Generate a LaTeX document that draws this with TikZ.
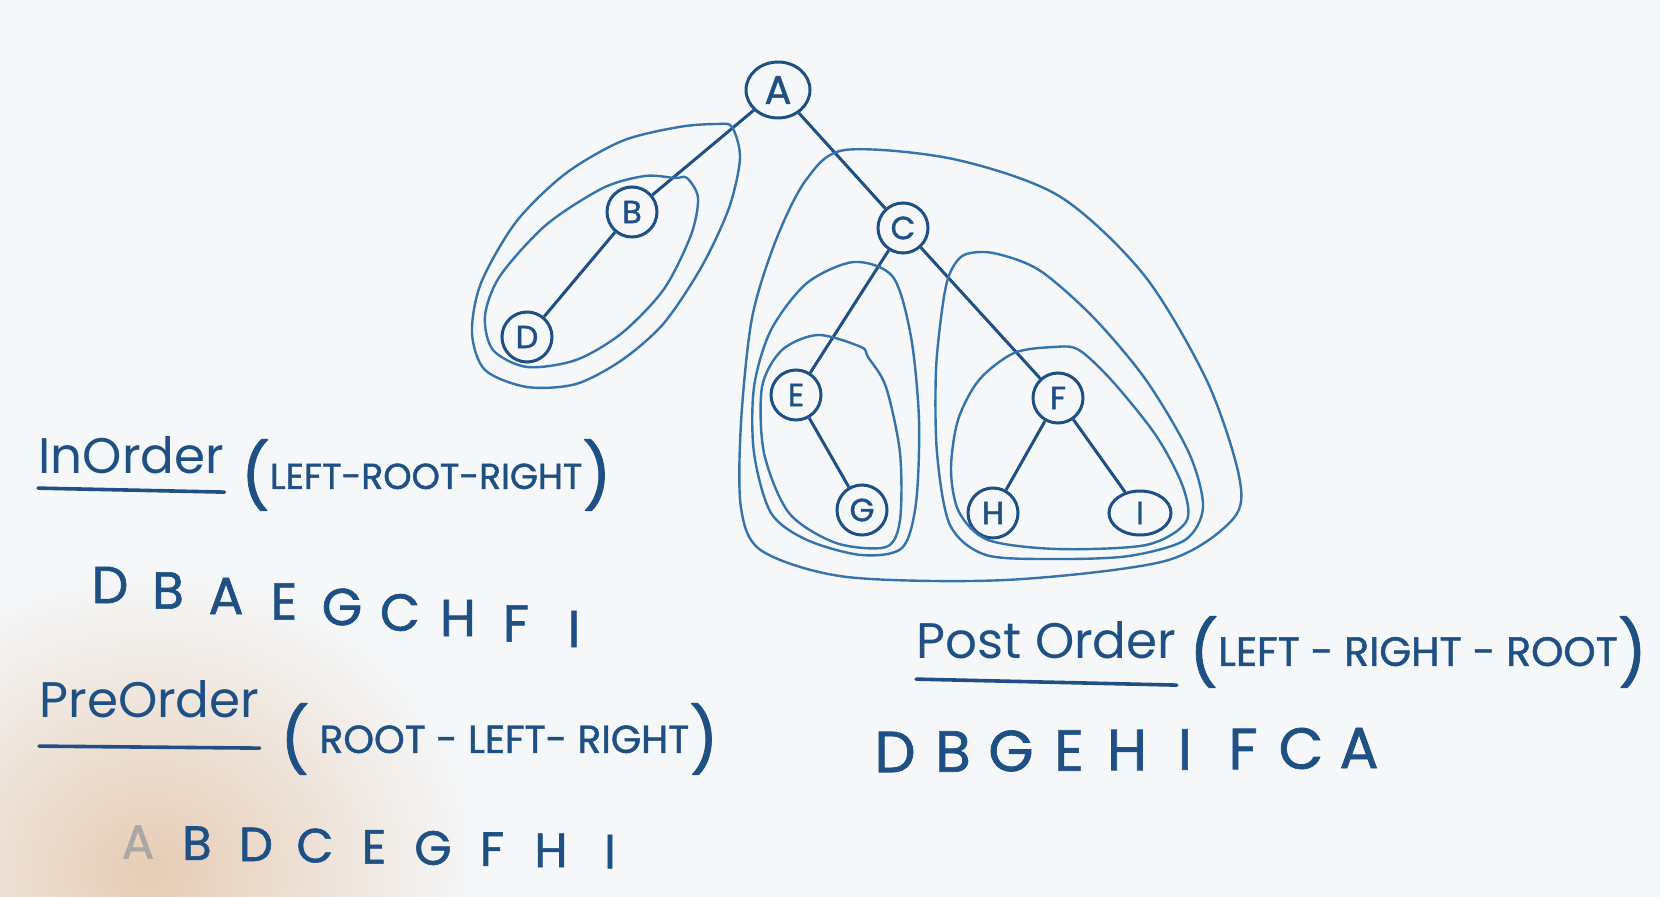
\documentclass[tikz,border=0pt]{standalone}
\usepackage{fontspec}
\setmainfont{Poppins}
\newfontfamily\markerfont{Poppins}[FakeBold=1.2]
\usetikzlibrary{positioning,shapes.geometric}

\definecolor{ink}{RGB}{30,80,132}
\definecolor{inklight}{RGB}{52,116,170}
\definecolor{board}{RGB}{245,247,249}
\definecolor{skin}{RGB}{230,204,180}
\newcommand{\handparen}[1]{\raisebox{-5pt}{\fontsize{32}{32}\selectfont #1}}

\begin{document}
\begin{tikzpicture}[
    x=0.5pt, y=-0.5pt,
    vertex/.style={draw=ink, circle, line width=1.5pt, minimum size=25pt, inner sep=0pt,
                   text=ink, font=\markerfont\fontsize{16}{16}\selectfont},
    branch/.style={draw=ink, line width=1.5pt},
    sweep/.style={draw=inklight, line width=1.2pt},
    title_text/.style={text=ink, font=\fontsize{25}{25}\selectfont, anchor=west, inner sep=0pt},
    rule_text/.style={text=ink, font=\markerfont\fontsize{18}{18}\selectfont, inner sep=0pt},
    seq_letter/.style={text=ink, inner sep=0pt},
    underline/.style={draw=ink, line width=1.8pt, line cap=round}
]

% --- BOARD ---
\useasboundingbox (0,0) rectangle (1660,897);
\fill[board] (0,0) rectangle (1660,897);
\shade[inner color=skin, outer color=board] (150,870) ellipse [x radius=165pt, y radius=150pt];

% --- TREE NODES ---
\node[vertex, ellipse, minimum width=32pt, minimum height=28pt, font=\markerfont\fontsize{20}{20}\selectfont] (A) at (778,90) {A};
\node[vertex] (B) at (632,212) {B};
\node[vertex] (D) at (527,337) {D};
\node[vertex] (C) at (903,228) {C};
\node[vertex] (E) at (796,395) {E};
\node[vertex] (F) at (1058,398) {F};
\node[vertex] (G) at (862,510) {G};
\node[vertex] (H) at (993,513) {H};
\node[vertex, ellipse, minimum width=31pt, minimum height=22pt] (I) at (1140,513) {I};

% --- EDGES ---
\draw[branch] (A) -- (B);
\draw[branch] (B) -- (D);
\draw[branch] (A) -- (C);
\draw[branch] (C) -- (E);
\draw[branch] (C) -- (F);
\draw[branch] (E) -- (G);
\draw[branch] (F) -- (H);
\draw[branch] (F) -- (I);

% --- SUBTREE LOOPS ---
% left subtree (B, D)
\draw[sweep] plot[smooth cycle] coordinates {(717,124) (679,127) (622,141) (565,174) (516,222) (481,283) (472,333) (485,370) (527,387) (576,384) (622,360) (664,323) (702,266) (729,208) (740,158) (732,127)};
\draw[sweep] plot[smooth cycle] coordinates {(675,178) (645,176) (603,188) (546,225) (500,276) (485,316) (493,350) (527,367) (576,360) (622,333) (664,289) (691,235) (698,198) (687,178)};

% right subtree (C and below)
\draw[sweep] plot[smooth cycle] coordinates {(845,150) (953,159) (1059,196) (1144,275) (1207,381) (1239,476) (1233,519) (1165,561) (1006,580) (847,577) (762,551) (741,508) (741,423) (752,318) (776,240) (806,180)};

% E, G
\draw[sweep] plot[smooth cycle] coordinates {(854,262) (807,283) (771,330) (754,387) (754,453) (771,513) (807,540) (861,555) (902,548) (916,503) (919,420) (911,337) (893,277)};
\draw[sweep] plot[smooth cycle] coordinates {(861,347) (818,335) (782,350) (762,387) (764,453) (789,513) (836,543) (886,547) (900,520) (900,453) (886,387) (868,357)};

% F, H, I
\draw[sweep] plot[smooth cycle] coordinates {(964,255) (993,253) (1039,270) (1093,317) (1146,380) (1189,453) (1203,507) (1185,540) (1129,556) (1057,559) (986,555) (950,525) (937,453) (936,370) (943,303) (950,273)};
\draw[sweep] plot[smooth cycle] coordinates {(1054,347) (1014,353) (979,380) (958,420) (951,470) (959,512) (988,540) (1057,549) (1146,545) (1186,522) (1183,487) (1157,437) (1114,383) (1079,350)};

% --- IN ORDER ---
\node[title_text] (in_title) at (38,455) {InOrder};
\draw[underline] ([yshift=-7pt]in_title.south west) -- ([yshift=-9pt]in_title.south east);
\node[rule_text, right=8pt of in_title, yshift=-10pt] (in_rule) {\handparen{(}LEFT-ROOT-RIGHT\handparen{)}};
\foreach \ch [count=\k from 0] in {D,B,A,E,G,C,H,F,I}
  \node[seq_letter, font=\markerfont\fontsize{26}{26}\selectfont] (in_\k) at (110+58*\k, 585+5.5*\k) {\ch};

% --- PRE ORDER ---
\node[title_text] (pre_title) at (39,699) {PreOrder};
\draw[underline] ([yshift=-14pt]pre_title.south west) -- ([yshift=-15pt]pre_title.south east);
\node[rule_text, font=\markerfont\fontsize{19.5}{19.5}\selectfont, right=10pt of pre_title, yshift=-20pt] (pre_rule) {\handparen{(} ROOT - LEFT- RIGHT\handparen{)}};
\foreach \ch/\tone [count=\k from 0] in {A/30,B/100,D/100,C/100,E/100,G/100,F/100,H/100,I/100}
  \node[seq_letter, text=ink!\tone!skin, font=\markerfont\fontsize{24}{24}\selectfont] (pre_\k) at (138+59*\k, 842+1.2*\k) {\ch};

% --- POST ORDER ---
\node[title_text] (post_title) at (916,640) {Post Order};
\draw[underline] ([yshift=-10pt]post_title.south west) -- ([yshift=-13pt]post_title.south east);
\node[rule_text, font=\markerfont\fontsize{20.5}{20.5}\selectfont, right=6pt of post_title, yshift=-6pt] (post_rule) {\handparen{(}LEFT - RIGHT - ROOT\handparen{)}};
\foreach \ch [count=\k from 0] in {D,B,G,E,H,I,F,C,A}
  \node[seq_letter, font=\markerfont\fontsize{29}{29}\selectfont] (post_\k) at (895+58*\k, 752-0.5*\k) {\ch};

\end{tikzpicture}
\end{document}
